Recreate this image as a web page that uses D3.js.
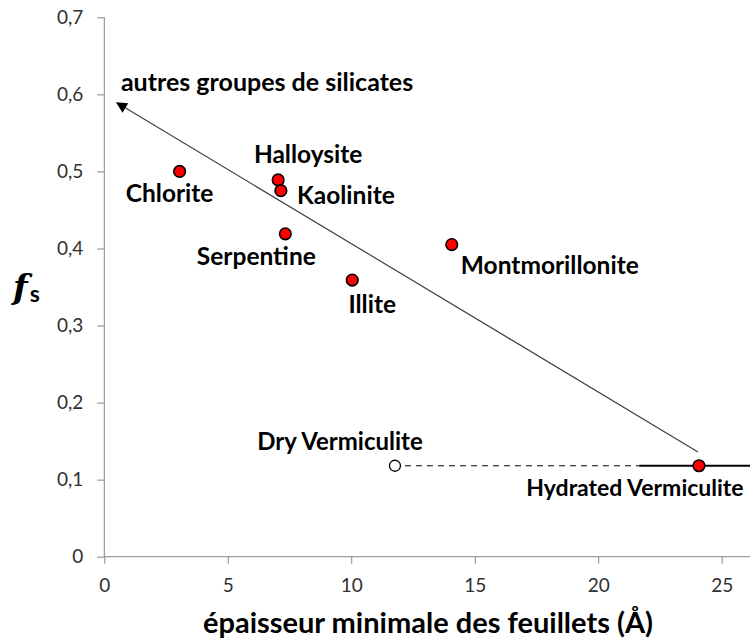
<!DOCTYPE html>
<html>
<head>
<meta charset="utf-8">
<script src="https://cdn.jsdelivr.net/npm/d3@7"></script>
<style>
  body { margin: 0; background: #fff; }
  text { font-family: Lato, "Open Sans", sans-serif; }
</style>
</head>
<body>
<script>
'use strict';

/* minerals: thickness (Å) vs f_s */
var names = ['Chlorite', 'Halloysite', 'Kaolinite', 'Serpentine', 'Illite', 'Montmorillonite', 'Hydrated Vermiculite'];
var thickness = [3.05, 7.04, 7.15, 7.33, 10.04, 14.07, 24.08];
var fs = [0.500, 0.489, 0.475, 0.419, 0.359, 0.405, 0.118];

var dryName = 'Dry Vermiculite';
var dryThickness = 11.77;
var dryFs = 0.118;
var hydratedError = 2.42;

var trendFrom = [24.04, 0.136];
var trendTo = [0.51, 0.589];
var trendLabel = 'autres groupes de silicates';

var xTicks = [0, 5, 10, 15, 20, 25];
var yTicks = [0, 0.1, 0.2, 0.3, 0.4, 0.5, 0.6, 0.7];

// label placement relative to each point (px)
var labelOffset = {
    'Chlorite': [-10, 31],
    'Halloysite': [30, -17],
    'Kaolinite': [65, 13],
    'Serpentine': [-29, 31],
    'Illite': [20, 33],
    'Montmorillonite': [98, 29],
    'Hydrated Vermiculite': [-64, 30],
    'Dry Vermiculite': [-55, -16]
};

var w = 750,
    h = 644;

var svg = d3.select('body')
    .append('svg')
    .attr('width', w)
    .attr('height', h);

var x = d3.scaleLinear().domain([0, 25]).range([104.3, 721.7]);
var y = d3.scaleLinear().domain([0, 0.7]).range([556.7, 17.3]);

var axisColor = '#868686';
var fmt = function(d) { return d === 0 ? '0' : d3.format('.1f')(d).replace('.', ','); };

/** X axis, runs off the right edge */
var gx = svg.append('g')
    .attr('transform', 'translate(0,' + y(0) + ')')
    .call(d3.axisBottom(x).tickValues(xTicks).tickSize(7).tickPadding(15).tickFormat(d3.format('d')));
gx.select('.domain').remove();
gx.append('line')
    .attr('x1', x(0)).attr('x2', w)
    .attr('stroke', axisColor);

/** Y axis */
var gy = svg.append('g')
    .attr('transform', 'translate(' + x(0) + ',0)')
    .call(d3.axisLeft(y).tickValues(yTicks).tickSize(7).tickPadding(14).tickFormat(fmt));
gy.select('.domain').attr('stroke', axisColor).attr('d', 'M0,' + y(0.7) + 'V' + y(0));

svg.selectAll('.tick line').attr('stroke', axisColor);
svg.selectAll('.tick text')
    .attr('fill', '#303030')
    .style('font-family', 'Lato, sans-serif')
    .style('font-size', '19px');

/** axis titles */
svg.append('text')
    .attr('x', 428)
    .attr('y', 633)
    .attr('text-anchor', 'middle')
    .style('font-size', '29px')
    .style('font-weight', 'bold')
    .text('épaisseur minimale des feuillets (Å)');

var fl = svg.append('text')
    .attr('x', 13)
    .attr('y', 299)
    .style('font-weight', 'bold');
fl.append('tspan')
    .style('font-size', '34px')
    .style('font-style', 'italic')
    .style('font-family', '"DejaVu Serif", serif')
    .text('f');
fl.append('tspan')
    .attr('dx', 2)
    .attr('dy', 3)
    .style('font-size', '23px')
    .text('s');

/** trend arrow */
svg.append('defs').append('marker')
    .attr('id', 'arrow')
    .attr('viewBox', '0 0 10 10')
    .attr('refX', 9)
    .attr('refY', 5)
    .attr('markerWidth', 13)
    .attr('markerHeight', 11)
    .attr('markerUnits', 'userSpaceOnUse')
    .attr('orient', 'auto')
    .append('path')
    .attr('d', 'M0,0L10,5L0,10z')
    .attr('fill', '#000');

svg.append('line')
    .attr('x1', x(trendFrom[0])).attr('y1', y(trendFrom[1]))
    .attr('x2', x(trendTo[0])).attr('y2', y(trendTo[1]))
    .attr('stroke', '#404040')
    .attr('stroke-width', 1.2)
    .attr('marker-end', 'url(#arrow)');

svg.append('text')
    .attr('x', x(trendTo[0]) + 4)
    .attr('y', y(trendTo[1]) - 12)
    .style('font-size', '25px')
    .style('font-weight', 'bold')
    .text(trendLabel);

/** dry -> hydrated link and error bar */
svg.append('line')
    .attr('x1', x(dryThickness) + 10).attr('y1', y(dryFs))
    .attr('x2', x(thickness[6] - hydratedError)).attr('y2', y(dryFs))
    .attr('stroke', '#000')
    .attr('stroke-dasharray', '6,5');

svg.append('line')
    .attr('x1', x(thickness[6] - hydratedError)).attr('y1', y(fs[6]))
    .attr('x2', x(thickness[6] + hydratedError)).attr('y2', y(fs[6]))
    .attr('stroke', '#000')
    .attr('stroke-width', 2.2);

/** points */
var pts = names.map(function(n, i) { return { name: n, t: thickness[i], f: fs[i] }; });

svg.append('circle')
    .attr('cx', x(dryThickness))
    .attr('cy', y(dryFs))
    .attr('r', 5.5)
    .attr('fill', '#fff')
    .attr('stroke', '#000')
    .attr('stroke-width', 1.3);

svg.selectAll('circle.pt')
    .data(pts)
    .enter()
    .append('circle')
    .attr('class', 'pt')
    .attr('cx', function(d) { return x(d.t); })
    .attr('cy', function(d) { return y(d.f); })
    .attr('r', 5.8)
    .attr('fill', '#ff0000')
    .attr('stroke', '#000')
    .attr('stroke-width', 1.6);

/** labels */
var lbl = pts.concat([{ name: dryName, t: dryThickness, f: dryFs }]);
svg.selectAll('text.lbl')
    .data(lbl)
    .enter()
    .append('text')
    .attr('class', 'lbl')
    .attr('x', function(d) { return x(d.t) + labelOffset[d.name][0]; })
    .attr('y', function(d) { return y(d.f) + labelOffset[d.name][1]; })
    .attr('text-anchor', 'middle')
    .style('font-size', function(d) {
        if (d.name === 'Hydrated Vermiculite') return '23px';
        return /Vermiculite/.test(d.name) ? '24px' : '24.5px';
    })
    .style('font-weight', 'bold')
    .text(function(d) { return d.name; });
</script>
</body>
</html>
